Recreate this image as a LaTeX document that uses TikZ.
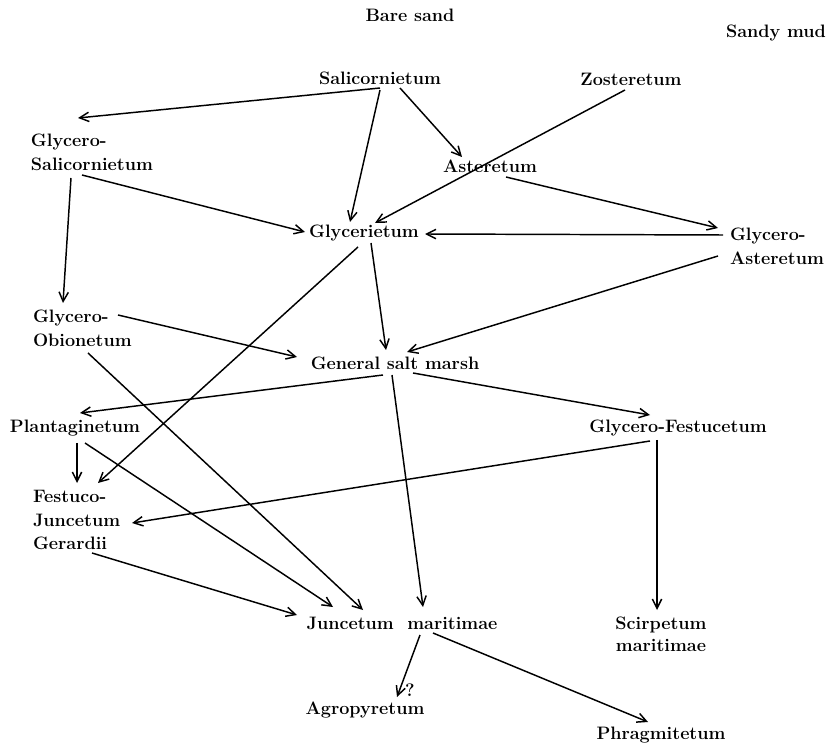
\documentclass[tikz,border=0pt]{standalone}
\usepackage{fontspec}
\usetikzlibrary{arrows.meta}
\newcommand{\lblfont}{\bfseries\addfontfeatures{FakeBold=0.6}}
\tikzset{
  lbl/.style={inner sep=0pt, outer sep=0pt, font=\fontsize{13.5}{18}\selectfont\lblfont},
  mlbl/.style={lbl, align=left, anchor=west},
  arr/.style={line width=1.1pt, -{Straight Barb[length=7pt,width=7pt,line width=1.1pt]}}
}
\begin{document}
\begin{tikzpicture}[x=0.75pt,y=-0.75pt]
\useasboundingbox (0,0) rectangle (839,748);
% nodes
\node[lbl] (bare) at (410,15) {Bare sand};
\node[lbl] (sandy) at (776,33) {Sandy mud};
\node[lbl] (sal) at (380,78) {Salicornietum};
\node[lbl] (zos) at (631,79) {Zosteretum};
\node[mlbl] (gsal) at (31,152) {Glycero-\\Salicornietum};
\node[lbl] (ast) at (490,166) {Asteretum};
\node[lbl] (glyc) at (364,233) {Glycerietum};
\node[mlbl] (gast) at (730,246) {Glycero-\\Asteretum};
\node[mlbl] (gobi) at (33,328) {Glycero-\\Obionetum};
\node[lbl] (gsm) at (395,363) {General salt marsh};
\node[lbl] (plant) at (75,428) {Plantaginetum};
\node[lbl] (gfest) at (678,428) {Glycero-Festucetum};
\node[mlbl, font=\fontsize{13.5}{17.5}\selectfont\lblfont] (fest) at (33,520) {Festuco-\\Juncetum\\Gerardii};
\node[lbl] (junc) at (402,623) {Juncetum\ \ maritimae};
\node[lbl, align=center, font=\fontsize{13.5}{16.5}\selectfont\lblfont] (scir) at (661,634) {Scirpetum\\maritimae};
\node[lbl] (agro) at (365,710) {Agropyretum};
\node[lbl] (phrag) at (661,735) {Phragmitetum};
\node[lbl] (q) at (410,690) {?};
% connectors
\draw[arr] ([shift={(0,10)}]sal.center) -- ([shift={(47,-34)}]gsal.west);
\draw[arr] ([shift={(0,12)}]sal.center) -- ([shift={(-14,-11)}]glyc.center);
\draw[arr] ([shift={(20,10)}]sal.center) -- ([shift={(-28,-9)}]ast.center);
\draw[arr] ([shift={(-6,11)}]zos.center) -- ([shift={(11,-10)}]glyc.center);
\draw[arr] ([shift={(51,23)}]gsal.west) -- ([shift={(-59,-1)}]glyc.center);
\draw[arr] ([shift={(40,26)}]gsal.west) -- ([shift={(30,-25)}]gobi.west);
\draw[arr] ([shift={(16,11)}]ast.center) -- ([shift={(-12,-18)}]gast.west);
\draw[arr] ([shift={(-7,-11)}]gast.west) -- ([shift={(61,1)}]glyc.center);
\draw[arr] ([shift={(-12,10)}]gast.west) -- ([shift={(12,-11)}]gsm.center);
\draw[arr] ([shift={(7,10)}]glyc.center) -- ([shift={(-9,-13)}]gsm.center);
\draw[arr] ([shift={(-6,14)}]glyc.center) -- ([shift={(65,-37)}]fest.west);
\draw[arr] ([shift={(85,-13)}]gobi.west) -- ([shift={(-98,-6)}]gsm.center);
\draw[arr] ([shift={(55,25)}]gobi.west) -- ([shift={(-39,-13)}]junc.center);
\draw[arr] ([shift={(-12,12)}]gsm.center) -- ([shift={(5,-15)}]plant.center);
\draw[arr] ([shift={(18,10)}]gsm.center) -- ([shift={(-28,-13)}]gfest.center);
\draw[arr] ([shift={(-3,12)}]gsm.center) -- ([shift={(21,-16)}]junc.center);
\draw[arr] ([shift={(2,15)}]plant.center) -- ([shift={(44,-37)}]fest.west);
\draw[arr] ([shift={(10,15)}]plant.center) -- ([shift={(-69,-16)}]junc.center);
\draw[arr] ([shift={(-28,13)}]gfest.center) -- ([shift={(99,3)}]fest.west);
\draw[arr] ([shift={(-21,12)}]gfest.center) -- ([shift={(-4,-24)}]scir.center);
\draw[arr] ([shift={(59,33)}]fest.west) -- ([shift={(-105,-8)}]junc.center);
\draw[arr] ([shift={(18,12)}]junc.center) -- ([shift={(32,-13)}]agro.center);
\draw[arr] ([shift={(31,10)}]junc.center) -- ([shift={(-13,-13)}]phrag.center);
\end{tikzpicture}
\end{document}
